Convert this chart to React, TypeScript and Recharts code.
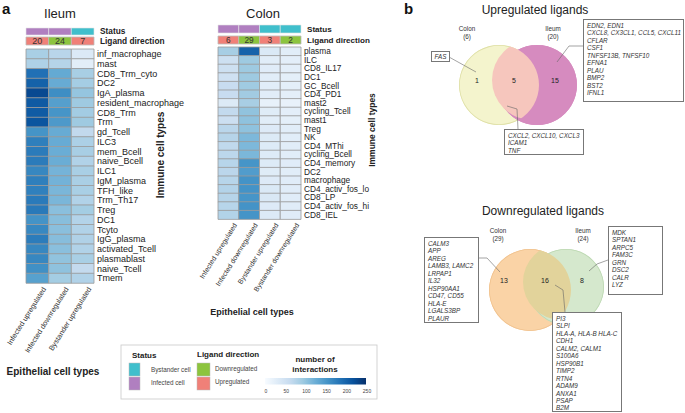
import React from 'react';
import { BarChart, Bar, XAxis, YAxis, Cell, LabelList, PieChart, Pie } from 'recharts';

// ---------------- data ----------------
const ILEUM_ROWS = ['inf_macrophage','mast','CD8_Trm_cyto','DC2','IgA_plasma','resident_macrophage','CD8_Trm','Trm','gd_Tcell','ILC3','mem_Bcell','naive_Bcell','ILC1','IgM_plasma','TFH_like','Trm_Th17','Treg','DC1','Tcyto','IgG_plasma','activated_Tcell','plasmablast','naive_Tcell','Tmem'];
const ILEUM_INF_UP = [85,81,188,202,226,210,209,215,154,174,178,178,167,174,173,179,180,155,166,177,167,167,158,140];
const ILEUM_INF_DOWN = [73,76,130,128,160,142,153,148,128,128,126,126,119,120,116,116,106,107,106,108,106,102,103,89];
const ILEUM_BYS_UP = [35,26,86,88,99,93,90,93,66,83,86,79,85,84,85,79,89,77,79,80,79,85,64,79];
const ILEUM_COLS = ['Infected upregulated','Infected downregulated','Bystander upregulated'];
const ILEUM_STATUS = ['Infected','Infected','Bystander'];
const ILEUM_DIR = ['Up','Down','Up'];
const ILEUM_COUNTS = [20,24,7];

const COLON_ROWS = ['plasma','ILC','CD8_IL17','DC1','GC_Bcell','CD4_PD1','mast2','cycling_Tcell','mast1','Treg','NK','CD4_MThi','cycling_Bcell','CD4_memory','DC2','macrophage','CD4_activ_fos_lo','CD8_LP','CD4_activ_fos_hi','CD8_IEL'];
const COLON_INF_UP = [87,53,53,51,60,60,34,65,55,72,75,67,70,74,71,74,77,75,74,78];
const COLON_INF_DOWN = [201,94,94,94,92,91,86,102,103,103,114,114,115,153,145,155,155,153,155,154];
const COLON_BYS_UP = [36,27,29,27,27,27,20,30,27,33,34,32,32,32,30,33,36,38,33,34];
const COLON_BYS_DOWN = [28,25,25,24,24,24,19,25,24,27,27,27,27,29,28,29,29,29,29,29];
const COLON_COLS = ['Infected upregulated','Infected downregulated','Bystander upregulated','Bystander downregulated'];
const COLON_STATUS = ['Infected','Infected','Bystander','Bystander'];
const COLON_DIR = ['Up','Down','Up','Down'];
const COLON_COUNTS = [6,29,3,2];

const LEGEND_TICKS = [0,50,100,150,200,250];

const UP_TOTALS = { colon: 6, ileum: 20 };
const UP_COUNTS = { colonOnly: 1, both: 5, ileumOnly: 15 };
const DOWN_TOTALS = { colon: 29, ileum: 24 };
const DOWN_COUNTS = { colonOnly: 13, both: 16, ileumOnly: 8 };

const UP_COLON_ONLY = ['FAS'];
const UP_ILEUM_ONLY = ['EDN2, EDN1','CXCL8, CX3CL1, CCL5, CXCL11','CFLAR','CSF1','TNFSF13B, TNFSF10','EFNA1','PLAU','BMP2','BST2','IFNL1'];
const UP_BOTH = ['CXCL2, CXCL10, CXCL3','ICAM1','TNF'];
const DOWN_COLON_ONLY = ['CALM3','APP','AREG','LAMB3, LAMC2','LRPAP1','IL32','HSP90AA1','CD47, CD55','HLA-E','LGALS3BP','PLAUR'];
const DOWN_ILEUM_ONLY = ['MDK','SPTAN1','ARPC5','FAM3C','GRN','DSC2','CALR','LYZ'];
const DOWN_BOTH = ['PI3','SLPI','HLA-A, HLA-B HLA-C','CDH1','CALM2, CALM1','S100A6','HSP90B1','TIMP2','RTN4','ADAM9','ANXA1','PSAP','B2M'];

// ---------------- styles ----------------
const BLUES = ['#f7fbff','#deebf7','#c6dbef','#9ecae1','#6baed6','#4292c6','#2171b5','#08519c','#08306b'];
const STATUS_COLOR: Record<string,string> = { Infected: '#b07fc0', Bystander: '#40bfcc' };
const DIR_COLOR: Record<string,string> = { Up: '#f08078', Down: '#8cc43e' };
const FONT = '"Liberation Sans", Arial, sans-serif';

function hex(c: string) { return [1,3,5].map(i => parseInt(c.slice(i, i+2), 16)); }
function blue(v: number) {
  const t = Math.max(0, Math.min(1, v / 250)) * (BLUES.length - 1);
  const i = Math.min(Math.floor(t), BLUES.length - 2);
  const f = t - i;
  const a = hex(BLUES[i]), b = hex(BLUES[i+1]);
  const m = a.map((x, k) => Math.round(x + (b[k] - x) * f));
  return `rgb(${m[0]},${m[1]},${m[2]})`;
}

type Geo = { W: number; H: number; left: number; top: number; w: number; h: number; yW: number; xH: number;
  rowFont: number; statusTop: number; statusH: number; ligTop: number; ligH: number; headFont: number; numFont: number;
  labFont: number; labDx: number; labDy: number; };

const plainTick = (fontSize: number, bold: boolean) => (p: any) => (
  <text x={p.x} y={p.y} dy="0.35em" fontSize={fontSize} fontWeight={bold ? 'bold' : 'normal'} fill="#222" textAnchor="start">{p.payload.value}</text>
);

function Heatmap({ rows, cols, colLabels, statuses, dirs, counts, g }:
  { rows: string[]; cols: number[][]; colLabels: string[]; statuses: string[]; dirs: string[]; counts: number[]; g: Geo }) {
  const n = cols.length;
  const table = rows.map((name, j) => {
    const o: any = { name };
    cols.forEach((c, i) => { o['v' + i] = c[j]; o['u' + i] = 1; });
    return o;
  });
  const right = g.W - g.left - g.w - g.yW;
  const statusRow: any = { name: 'Status' };
  const ligRow: any = { name: 'Ligand direction' };
  for (let i = 0; i < n; i++) { statusRow['u' + i] = 1; ligRow['u' + i] = 1; ligRow['n' + i] = counts[i]; }
  const centers = cols.map((_, i) => i + 0.5);
  return (
    <>
      <div style={{ position: 'absolute', left: 0, top: 0 }}>
        <BarChart layout="vertical" width={g.W} height={60} data={[statusRow]} barCategoryGap={0}
          margin={{ top: g.statusTop, bottom: 60 - g.statusTop - g.statusH, left: g.left, right }}>
          <XAxis type="number" domain={[0, n]} hide />
          <YAxis type="category" dataKey="name" orientation="right" width={g.yW} tickSize={0} tickMargin={6} axisLine={false} tick={plainTick(g.headFont, true)} interval={0} />
          {cols.map((_, i) => (
            <Bar key={i} dataKey={'u' + i} stackId="s" fill={STATUS_COLOR[statuses[i]]} stroke="#e4e4e4" strokeWidth={0.6} isAnimationActive={false} />
          ))}
        </BarChart>
      </div>
      <div style={{ position: 'absolute', left: 0, top: 0 }}>
        <BarChart layout="vertical" width={g.W} height={60} data={[ligRow]} barCategoryGap={0}
          margin={{ top: g.ligTop, bottom: 60 - g.ligTop - g.ligH, left: g.left, right }}>
          <XAxis type="number" domain={[0, n]} hide />
          <YAxis type="category" dataKey="name" orientation="right" width={g.yW} tickSize={0} tickMargin={6} axisLine={false} tick={plainTick(g.headFont, true)} interval={0} />
          {cols.map((_, i) => (
            <Bar key={i} dataKey={'u' + i} stackId="s" fill={DIR_COLOR[dirs[i]]} stroke="#bbbbbb" strokeWidth={0.8} isAnimationActive={false}>
              <LabelList dataKey={'n' + i} position="center" style={{ fontSize: g.numFont, fill: '#333' }} />
            </Bar>
          ))}
        </BarChart>
      </div>
      <div style={{ position: 'absolute', left: 0, top: 0 }}>
        <BarChart layout="vertical" width={g.W} height={g.H} data={table} barCategoryGap={0}
          margin={{ top: g.top, bottom: g.H - g.top - g.h - g.xH, left: g.left, right }}>
          <XAxis type="number" domain={[0, n]} ticks={centers} height={g.xH} tickSize={0} tickMargin={0} axisLine={false} interval={0}
            tick={(p: any) => {
              const i = Math.floor(p.payload.value);
              const ax = p.x + g.labDx, ay = p.y + g.labDy;
              return (
                <text x={ax} y={ay} transform={`rotate(-58 ${ax} ${ay})`} textAnchor="end" fontSize={g.labFont} fill="#333">{colLabels[i]}</text>
              );
            }} />
          <YAxis type="category" dataKey="name" orientation="right" width={g.yW} tickSize={0} tickMargin={3} axisLine={false}
            tick={plainTick(g.rowFont, false)} interval={0} />
          {cols.map((_, i) => (
            <Bar key={i} dataKey={'u' + i} stackId="s" stroke="#9a9a9a" strokeWidth={0.8} isAnimationActive={false}>
              {table.map((r, j) => <Cell key={j} fill={blue(r['v' + i])} />)}
            </Bar>
          ))}
        </BarChart>
      </div>
    </>
  );
}

function Venn({ totals, cx1, cx2, cy1, cy2, r1, r2, c1, c2, cOver, ring1, ring2 }: any) {
  const W = 285, H = 413;
  return (
    <>
      <div style={{ position: 'absolute', left: 400, top: 0 }}>
        <PieChart width={W} height={H}>
          <Pie data={[{ name: 'Colon', value: totals.colon }]} dataKey="value" cx={cx1} cy={cy1} outerRadius={r1} startAngle={90} endAngle={-270} stroke="none" isAnimationActive={false}>
            <Cell fill={c1} />
          </Pie>
          <Pie data={[{ name: 'Colon', value: totals.colon }]} dataKey="value" cx={cx1} cy={cy1} innerRadius={r1 - 0.8} outerRadius={r1} startAngle={90} endAngle={-270} stroke="none" isAnimationActive={false}>
            <Cell fill={ring1} />
          </Pie>
          <Pie data={[{ name: 'Ileum', value: totals.ileum }]} dataKey="value" cx={cx2} cy={cy2} outerRadius={r2} startAngle={90} endAngle={-270} stroke="none" isAnimationActive={false}>
            <Cell fill={c2} />
          </Pie>
          <Pie data={[{ name: 'Ileum', value: totals.ileum }]} dataKey="value" cx={cx2} cy={cy2} innerRadius={r2 - 0.8} outerRadius={r2} startAngle={90} endAngle={-270} stroke="none" isAnimationActive={false}>
            <Cell fill={ring2} />
          </Pie>
        </PieChart>
      </div>
      <div style={{ position: 'absolute', left: 400, top: 0, width: W, height: H, clipPath: `circle(${r2}px at ${cx2}px ${cy2}px)` }}>
        <PieChart width={W} height={H}>
          <Pie data={[{ name: 'Both', value: totals.colon }]} dataKey="value" cx={cx1} cy={cy1} outerRadius={r1} startAngle={90} endAngle={-270} stroke="none" isAnimationActive={false}>
            <Cell fill={cOver} />
          </Pie>
        </PieChart>
      </div>
    </>
  );
}

function Box({ lines, left, top, width, height, center }: { lines: string[]; left: number; top: number; width: number; height: number; center?: boolean }) {
  return (
    <div style={{ position: 'absolute', left, top, width, height, boxSizing: 'border-box', border: '0.8px solid #777', background: '#fff',
      padding: center ? '1px 2px' : '2px 3px', fontSize: 6.3, lineHeight: '7.45px', fontStyle: 'italic', color: '#333', textAlign: center ? 'center' : 'left', whiteSpace: 'nowrap' }}>
      {lines.map((l, i) => <div key={i}>{l}</div>)}
    </div>
  );
}

export default function App() {
  const ileumGeo: Geo = { W: 205, H: 380, left: 26, top: 49, w: 68, h: 234, yW: 95, xH: 70, rowFont: 9,
    statusTop: 28, statusH: 6.5, ligTop: 37, ligH: 8, headFont: 8.3, numFont: 9, labFont: 7.3, labDx: 9, labDy: 6 };
  const colonGeo: Geo = { W: 400, H: 330, left: 218, top: 47, w: 83, h: 172, yW: 85, xH: 80, rowFont: 8.3,
    statusTop: 25, statusH: 8, ligTop: 36, ligH: 7.5, headFont: 8.1, numFont: 8.3, labFont: 7, labDx: 9, labDy: 6 };
  const gx = (v: number) => 265 + (v / 250) * 101;
  return (
    <div style={{ position: 'absolute', left: 0, top: 0, width: 685, height: 413, background: '#fff', fontFamily: FONT, overflow: 'hidden' }}>
      <Heatmap rows={ILEUM_ROWS} cols={[ILEUM_INF_UP, ILEUM_INF_DOWN, ILEUM_BYS_UP]} colLabels={ILEUM_COLS}
        statuses={ILEUM_STATUS} dirs={ILEUM_DIR} counts={ILEUM_COUNTS} g={ileumGeo} />
      <Heatmap rows={COLON_ROWS} cols={[COLON_INF_UP, COLON_INF_DOWN, COLON_BYS_UP, COLON_BYS_DOWN]} colLabels={COLON_COLS}
        statuses={COLON_STATUS} dirs={COLON_DIR} counts={COLON_COUNTS} g={colonGeo} />

      <Venn totals={UP_TOTALS} cx1={94} cy1={80} r1={40} cx2={132} cy2={80} r2={40}
        c1="#f4f4cd" c2="#d68bbf" cOver="#f6c6bd" ring1="#dedfa6" ring2="#d68bbf" />
      <Venn totals={DOWN_TOTALS} cx1={125} cy1={285} r1={41} cx2={161} cy2={282} r2={38}
        c1="#fad3a6" c2="#d5e8cd" cOver="#e2d39b" ring1="#f0c28e" ring2="#bcd8b2" />

      <svg width={685} height={413} style={{ position: 'absolute', left: 0, top: 0, pointerEvents: 'none' }} fontFamily={FONT}>
        <defs>
          <linearGradient id="legGrad" x1="0" x2="1" y1="0" y2="0">
            {BLUES.map((c, i) => <stop key={i} offset={i / (BLUES.length - 1)} stopColor={c} />)}
          </linearGradient>
        </defs>
        <text x={2} y={14} fontSize={15} fontWeight="bold" fill="#111">a</text>
        <text x={404} y={14} fontSize={15} fontWeight="bold" fill="#111">b</text>
        <text x={60} y={18} fontSize={13} textAnchor="middle" fill="#222">Ileum</text>
        <text x={263} y={18} fontSize={13} textAnchor="middle" fill="#222">Colon</text>
        <text transform="translate(164 155) rotate(-90)" fontSize={10} fontWeight="bold" textAnchor="middle" fill="#222">Immune cell types</text>
        <text transform="translate(375 130) rotate(-90)" fontSize={8.5} fontWeight="bold" textAnchor="middle" fill="#222">Immune cell types</text>
        <text x={53} y={375} fontSize={10} fontWeight="bold" textAnchor="middle" fill="#222">Epithelial cell types</text>
        <text x={252} y={315} fontSize={9} fontWeight="bold" textAnchor="middle" fill="#222">Epithelial cell types</text>

        {/* legend */}
        <rect x={121} y={345} width={256} height={54} fill="none" stroke="#c8c8c8" strokeWidth={0.8} />
        <text x={132} y={358} fontSize={8} fontWeight="bold" fill="#222">Status</text>
        <rect x={129} y={363} width={11} height={13} fill={STATUS_COLOR.Bystander} stroke="#bbb" strokeWidth={0.5} />
        <rect x={129} y={377} width={11} height={13} fill={STATUS_COLOR.Infected} stroke="#bbb" strokeWidth={0.5} />
        <text x={151} y={372} fontSize={6.3} fill="#444">Bystander cell</text>
        <text x={151} y={385} fontSize={6.3} fill="#444">Infected cell</text>
        <text x={197} y={357} fontSize={8} fontWeight="bold" fill="#222">Ligand direction</text>
        <rect x={197} y={363} width={13} height={13} fill={DIR_COLOR.Down} stroke="#bbb" strokeWidth={0.5} />
        <rect x={197} y={377} width={13} height={13} fill={DIR_COLOR.Up} stroke="#bbb" strokeWidth={0.5} />
        <text x={215} y={371} fontSize={6.3} fill="#444">Downregulated</text>
        <text x={215} y={384} fontSize={6.3} fill="#444">Upregulated</text>
        <text x={315} y={362} fontSize={8} fontWeight="bold" textAnchor="middle" fill="#222">number of</text>
        <text x={315} y={372} fontSize={8} fontWeight="bold" textAnchor="middle" fill="#222">interactions</text>
        <rect x={265} y={378} width={101} height={6.5} fill="url(#legGrad)" />
        {LEGEND_TICKS.map(t => <text key={t} x={gx(t) + 1} y={393} fontSize={5} textAnchor="middle" fill="#444">{t}</text>)}

        {/* venn titles */}
        <text x={535} y={14} fontSize={12} textAnchor="middle" fill="#222">Upregulated ligands</text>
        <text x={543} y={215} fontSize={12} textAnchor="middle" fill="#222">Downregulated ligands</text>
        <text x={467} y={31} fontSize={6.3} textAnchor="middle" fill="#333">Colon</text>
        <text x={467} y={39} fontSize={6.3} textAnchor="middle" fill="#333">({UP_TOTALS.colon})</text>
        <text x={553} y={31} fontSize={6.3} textAnchor="middle" fill="#333">Ileum</text>
        <text x={553} y={39} fontSize={6.3} textAnchor="middle" fill="#333">({UP_TOTALS.ileum})</text>
        <text x={477} y={83} fontSize={7} textAnchor="middle" fill="#222">{UP_COUNTS.colonOnly}</text>
        <text x={514} y={83} fontSize={7} textAnchor="middle" fill="#222">{UP_COUNTS.both}</text>
        <text x={555} y={83} fontSize={7} textAnchor="middle" fill="#222">{UP_COUNTS.ileumOnly}</text>
        <text x={498} y={233} fontSize={6.3} textAnchor="middle" fill="#333">Colon</text>
        <text x={498} y={241} fontSize={6.3} textAnchor="middle" fill="#333">({DOWN_TOTALS.colon})</text>
        <text x={583} y={233} fontSize={6.3} textAnchor="middle" fill="#333">Ileum</text>
        <text x={583} y={241} fontSize={6.3} textAnchor="middle" fill="#333">({DOWN_TOTALS.ileum})</text>
        <text x={504} y={283} fontSize={7} textAnchor="middle" fill="#222">{DOWN_COUNTS.colonOnly}</text>
        <text x={545} y={283} fontSize={7} textAnchor="middle" fill="#222">{DOWN_COUNTS.both}</text>
        <text x={582} y={283} fontSize={7} textAnchor="middle" fill="#222">{DOWN_COUNTS.ileumOnly}</text>

        {/* leader lines */}
        <g fill="none" stroke="#666" strokeWidth={0.6}>
          <polyline points="449,57 476,72" />
          <polyline points="583,46 569,46 557,62" />
          <polyline points="507,106 517,109 518,129" />
          <polyline points="479,258 487,258 500,272" />
          <polyline points="608,260 597,264 589,271" />
          <polyline points="555,285 563,290 565,312" />
        </g>
      </svg>

      <Box lines={UP_COLON_ONLY} left={431} top={51} width={19} height={11} center />
      <Box lines={UP_ILEUM_ONLY} left={583} top={19} width={101} height={83} />
      <Box lines={UP_BOTH} left={504} top={129} width={80} height={26} />
      <Box lines={DOWN_COLON_ONLY} left={424} top={237} width={55} height={86} />
      <Box lines={DOWN_ILEUM_ONLY} left={608} top={226} width={55} height={69} />
      <Box lines={DOWN_BOTH} left={552} top={312} width={70} height={100} />
    </div>
  );
}
